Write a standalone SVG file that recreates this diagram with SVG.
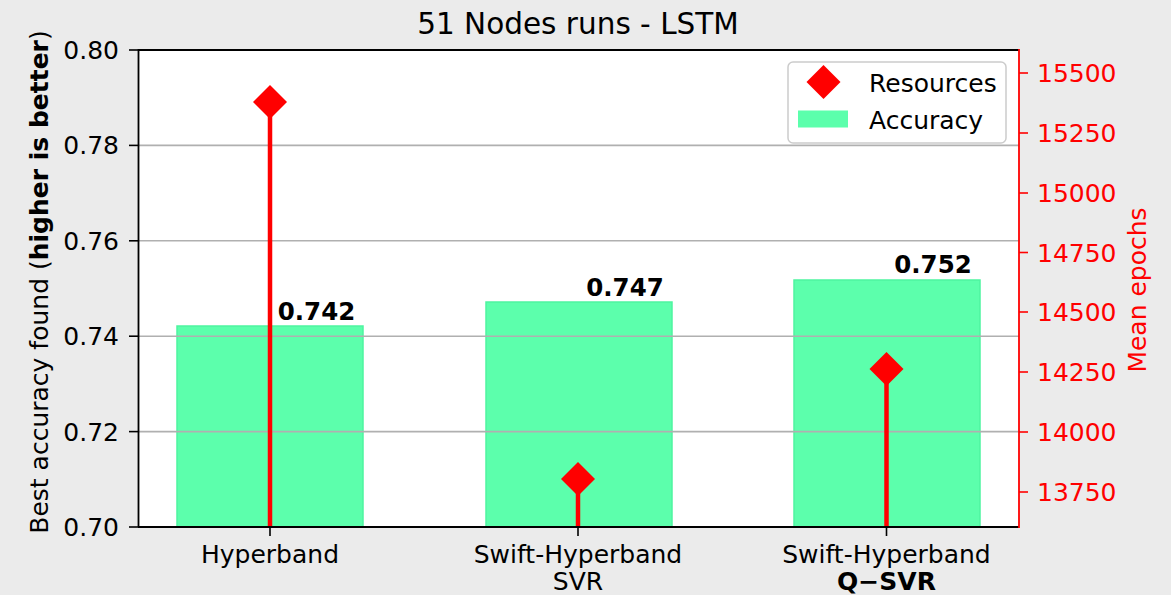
<svg xmlns="http://www.w3.org/2000/svg" width="1171" height="595" viewBox="0 0 1171 595">
<style>
text{font-family:"DejaVu Sans",sans-serif;}
.tick{font-size:25px;fill:#000;}
.rtick{font-size:25px;fill:#ff0000;}
.val{font-size:24.5px;font-weight:bold;fill:#000;}
.bar{fill:#5cffac;stroke:#4ef5a0;stroke-width:1.5;}
.grid{stroke:#b0b0b0;stroke-width:1.6;}
.stem{stroke:#ff0000;stroke-width:4.5;}
.dia{fill:#ff0000;}
</style>
<rect x="0" y="0" width="1171" height="595" fill="#ebebeb"/>
<rect x="138" y="50" width="881" height="477" fill="#ffffff"/>
<g id="bars">
<rect class="bar" x="177" y="326" width="186" height="201"/>
<rect class="bar" x="486" y="302" width="186" height="225"/>
<rect class="bar" x="794" y="280" width="186" height="247"/>
</g>
<g id="grid">
<line class="grid" x1="138" y1="145.4" x2="1019" y2="145.4"/>
<line class="grid" x1="138" y1="240.8" x2="1019" y2="240.8"/>
<line class="grid" x1="138" y1="336.2" x2="1019" y2="336.2"/>
<line class="grid" x1="138" y1="431.6" x2="1019" y2="431.6"/>
</g>
<g id="values">
<text class="val" x="316.5" y="320" text-anchor="middle">0.742</text>
<text class="val" x="625" y="296" text-anchor="middle">0.747</text>
<text class="val" x="933" y="273" text-anchor="middle">0.752</text>
</g>
<g id="connectors">
<line class="stem" x1="270" y1="102" x2="270" y2="527"/>
<line class="stem" x1="578" y1="479" x2="578" y2="527"/>
<line class="stem" x1="886.5" y1="369" x2="886.5" y2="527"/>
</g>
<g id="markers">
<polygon class="dia" points="270,85 287,102 270,119 253,102"/>
<polygon class="dia" points="578,462 595,479 578,496 561,479"/>
<polygon class="dia" points="886.5,352 903.5,369 886.5,386 869.5,369"/>
</g>
<g id="axes">
<line x1="138" y1="50" x2="1019" y2="50" stroke="#000" stroke-width="1.8"/>
<line x1="138.5" y1="49" x2="138.5" y2="527" stroke="#000" stroke-width="1.8"/>
<line x1="138" y1="527" x2="1019" y2="527" stroke="#000" stroke-width="1.8"/>
<line x1="1019" y1="49" x2="1019" y2="528" stroke="#ff0000" stroke-width="1.8"/>
</g>
<g id="left-ticks" stroke="#000" stroke-width="1.6">
<line x1="129" y1="50" x2="138" y2="50"/>
<line x1="129" y1="145.4" x2="138" y2="145.4"/>
<line x1="129" y1="240.8" x2="138" y2="240.8"/>
<line x1="129" y1="336.2" x2="138" y2="336.2"/>
<line x1="129" y1="431.6" x2="138" y2="431.6"/>
<line x1="129" y1="527" x2="138" y2="527"/>
<line x1="270" y1="527" x2="270" y2="536"/>
<line x1="578" y1="527" x2="578" y2="536"/>
<line x1="886.5" y1="527" x2="886.5" y2="536"/>
</g>
<g id="left-labels">
<text class="tick" x="119" y="59" text-anchor="end">0.80</text>
<text class="tick" x="119" y="154.4" text-anchor="end">0.78</text>
<text class="tick" x="119" y="249.8" text-anchor="end">0.76</text>
<text class="tick" x="119" y="345.2" text-anchor="end">0.74</text>
<text class="tick" x="119" y="440.6" text-anchor="end">0.72</text>
<text class="tick" x="119" y="536" text-anchor="end">0.70</text>
</g>
<g id="right-ticks" stroke="#ff0000" stroke-width="1.6">
<line x1="1019" y1="73" x2="1028" y2="73"/>
<line x1="1019" y1="133" x2="1028" y2="133"/>
<line x1="1019" y1="193" x2="1028" y2="193"/>
<line x1="1019" y1="252.5" x2="1028" y2="252.5"/>
<line x1="1019" y1="312" x2="1028" y2="312"/>
<line x1="1019" y1="372" x2="1028" y2="372"/>
<line x1="1019" y1="432" x2="1028" y2="432"/>
<line x1="1019" y1="492" x2="1028" y2="492"/>
</g>
<g id="right-labels">
<text class="rtick" x="1037" y="82">15500</text>
<text class="rtick" x="1037" y="142">15250</text>
<text class="rtick" x="1037" y="202">15000</text>
<text class="rtick" x="1037" y="261.5">14750</text>
<text class="rtick" x="1037" y="321">14500</text>
<text class="rtick" x="1037" y="381">14250</text>
<text class="rtick" x="1037" y="441">14000</text>
<text class="rtick" x="1037" y="501">13750</text>
</g>
<g id="x-labels">
<text class="tick" x="270" y="563" text-anchor="middle">Hyperband</text>
<text class="tick" x="578" y="563" text-anchor="middle">Swift-Hyperband</text>
<text class="tick" x="578" y="590" text-anchor="middle">SVR</text>
<text class="tick" x="886.5" y="563" text-anchor="middle">Swift-Hyperband</text>
<text class="tick" x="886.5" y="590" text-anchor="middle" font-weight="bold">Q−SVR</text>
</g>
<g id="title">
<text x="578" y="34" text-anchor="middle" font-size="29.5">51 Nodes runs - LSTM</text>
</g>
<g id="ylabel-left">
<text transform="translate(48,282) rotate(-90)" text-anchor="middle" font-size="25">Best accuracy found (<tspan font-weight="bold">higher is better</tspan>)</text>
</g>
<g id="ylabel-right">
<text transform="translate(1146,290) rotate(-90)" text-anchor="middle" font-size="25" fill="#ff0000">Mean epochs</text>
</g>
<g id="legend">
<rect x="788" y="62" width="218" height="81" rx="5" ry="5" fill="#ffffff" fill-opacity="0.8" stroke="#cccccc" stroke-width="1.5"/>
<polygon class="dia" points="823.5,65 840.5,82 823.5,99 806.5,82"/>
<rect x="798" y="110.5" width="50" height="17" fill="#5cffac"/>
<text class="tick" x="869" y="92">Resources</text>
<text class="tick" x="869" y="128.5">Accuracy</text>
</g>
</svg>
